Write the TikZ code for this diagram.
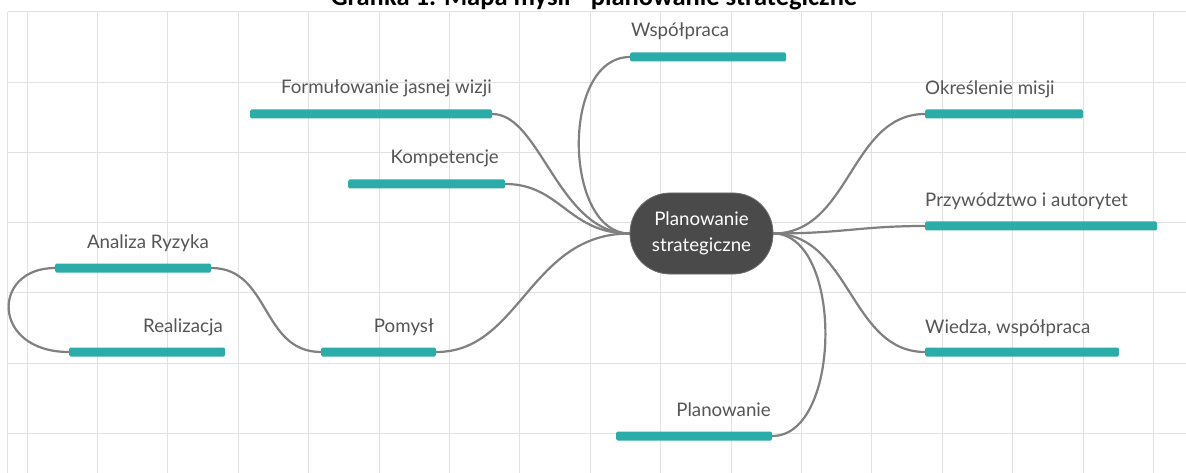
\documentclass[tikz,border=0pt]{standalone}
\usepackage{fontspec}
\setmainfont{Lato}
\newfontfamily\titlefont{Carlito}
\usetikzlibrary{backgrounds}

\definecolor{barteal}{HTML}{2BACA8}
\definecolor{hubgray}{HTML}{4A4A4A}
\definecolor{linkgray}{HTML}{808080}
\definecolor{gridgray}{HTML}{E2E2E2}
\definecolor{labelgray}{HTML}{555555}

\tikzset{
  gridline/.style={draw=gridgray, line width=1pt},
  bar/.style={fill=barteal, draw=none, minimum height=9pt, inner sep=0pt,
              rounded corners=1.5pt, anchor=west},
  lbl/.style={text=labelgray, inner sep=0pt, font=\fontsize{18.7}{22}\selectfont},
  hubnode/.style={fill=hubgray, draw=hubgray!80!white, line width=0.8pt,
                  rounded corners=40pt, minimum width=143pt, minimum height=81pt,
                  text=white, align=center, inner sep=0pt,
                  font=\fontsize{18.7}{26}\selectfont},
  link/.style={draw=linkgray, line width=2.2pt, line cap=round},
}

\begin{document}
\begin{tikzpicture}[x=1pt, y=-1pt]
  \useasboundingbox (0,0) rectangle (1186,473);
  \clip (0,0) rectangle (1186,473);

  % title, partly above the page edge
  \node[anchor=base, inner sep=0pt, text=black,
        font=\titlefont\bfseries\fontsize{26.5}{30}\selectfont] (title) at (594,6)
        {Grafika 1. Mapa myśli - planowanie strategiczne};

  % central topic
  \node[hubnode] (hub) at (701.5,233.5) {Planowanie\\strategiczne};

  % branch bars
  \node[bar, minimum width=156pt] (wsp)  at (630,57)  {};
  \node[bar, minimum width=242pt] (form) at (250,114) {};
  \node[bar, minimum width=157pt] (komp) at (348,184) {};
  \node[bar, minimum width=115pt] (pom)  at (321,352) {};
  \node[bar, minimum width=156pt] (anal) at (55,268)  {};
  \node[bar, minimum width=156pt] (real) at (69,352)  {};
  \node[bar, minimum width=156pt] (plan) at (616,436) {};
  \node[bar, minimum width=158pt] (okr)  at (925,114) {};
  \node[bar, minimum width=232pt] (przy) at (925,226) {};
  \node[bar, minimum width=194pt] (wied) at (925,352) {};

  % branch labels
  \node[lbl, anchor=base west] (wspT)  at (631,37)  {Współpraca};
  \node[lbl, anchor=base east] (formT) at (492,94)  {Formułowanie jasnej wizji};
  \node[lbl, anchor=base east] (kompT) at (499,164) {Kompetencje};
  \node[lbl, anchor=base east] (pomT)  at (434,332) {Pomysł};
  \node[lbl, anchor=base east] (analT) at (209,248) {Analiza Ryzyka};
  \node[lbl, anchor=base east] (realT) at (223,332) {Realizacja};
  \node[lbl, anchor=base east] (planT) at (771,416) {Planowanie};
  \node[lbl, anchor=base west] (okrT)  at (925,95)  {Określenie misji};
  \node[lbl, anchor=base west] (przyT) at (925,207) {Przywództwo i autorytet};
  \node[lbl, anchor=base west] (wiedT) at (925,333) {Wiedza, współpraca};

  \begin{scope}[on background layer]
    % white canvas with grid
    \fill[white] (0,0) rectangle (1186,473);
    \foreach \i in {0,...,16}
      \draw[gridline] ({27+70.4*\i},12) -- ({27+70.4*\i},473);
    \foreach \j in {0,...,6}
      \draw[gridline] (7.5,{12+70.2*\j}) -- (1186,{12+70.2*\j});
    \draw[gridline] (7.5,12) -- (7.5,473);

    % connectors
    \draw[link] (wsp.west)  .. controls +(-70,0) and +(-66,0) .. (hub.west);
    \draw[link] (form.east) .. controls +(48,0)  and +(-71,0) .. (hub.west);
    \draw[link] (komp.east) .. controls +(55,0)  and +(-61,0) .. (hub.west);
    \draw[link] (pom.east)  .. controls +(84,0)  and +(-100,0) .. (hub.west);
    \draw[link] (anal.east) .. controls +(59,0)  and +(-60,0) .. (pom.west);
    \draw[link] (anal.west) .. controls +(-64,0) and +(-78,0) .. (real.west);
    \draw[link] (hub.east)  .. controls +(77,0)  and +(-75,0) .. (okr.west);
    \draw[link] (hub.east)  .. controls +(70,0)  and +(-65,0) .. (przy.west);
    \draw[link] (hub.east)  .. controls +(77,0)  and +(-75,0) .. (wied.west);
    \draw[link] (hub.east)  .. controls +(70,0)  and +(70,0)  .. (plan.east);
  \end{scope}
\end{tikzpicture}
\end{document}
